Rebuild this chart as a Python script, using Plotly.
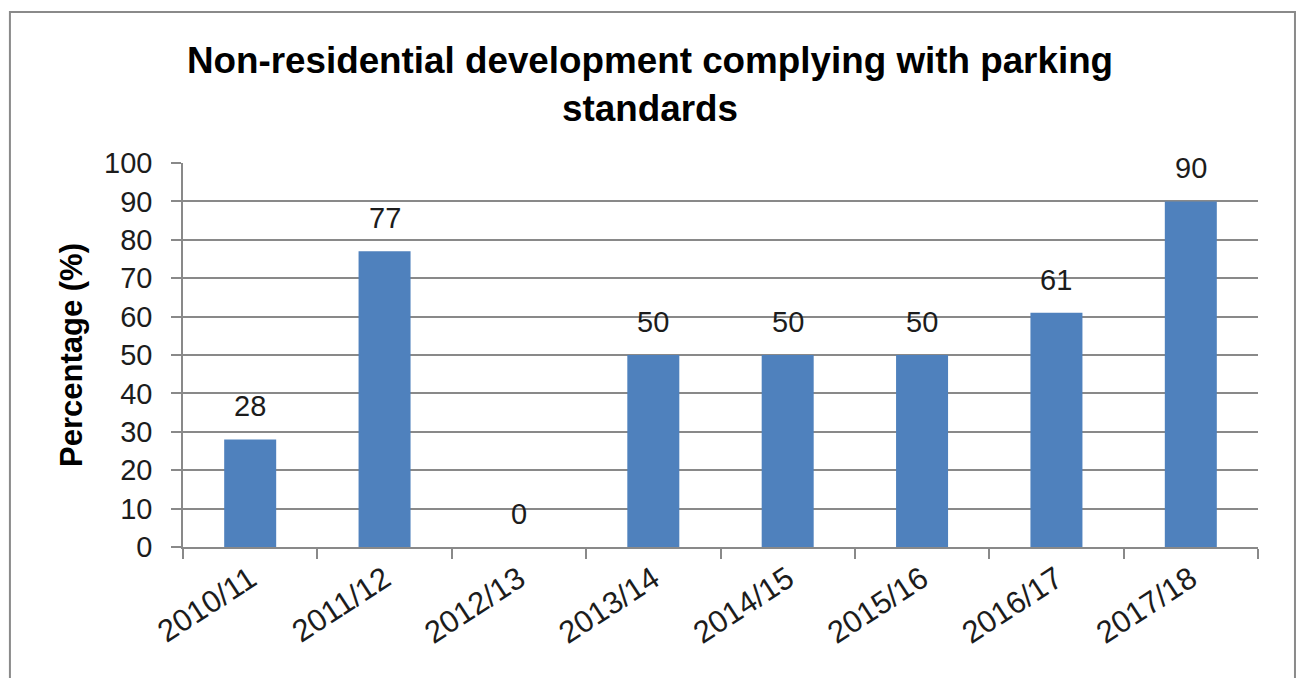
import plotly.graph_objects as go

# Financial years and share of non-residential schemes meeting parking standards
years = ["2010/11", "2011/12", "2012/13", "2013/14", "2014/15", "2015/16", "2016/17", "2017/18"]
percent_complying = [28, 77, 0, 50, 50, 50, 61, 90]

y_ticks = [0, 10, 20, 30, 40, 50, 60, 70, 80, 90, 100]

FONT = "Liberation Sans, Arial, sans-serif"
BAR_BLUE = "#4F81BD"
GRID_GREY = "#898989"
TEXT = "#1c1c1c"

fig = go.Figure()

fig.add_trace(go.Bar(
    x=years,
    y=percent_complying,
    marker=dict(color=BAR_BLUE, line=dict(width=0)),
    hoverinfo="x+y",
))

# value labels sitting above each bar
for yr, val in zip(years, percent_complying):
    fig.add_annotation(
        x=yr, y=val, text=str(val), showarrow=False,
        yanchor="middle", yshift=33,
        font=dict(family=FONT, size=29, color=TEXT),
    )

# outer chart frame
fig.add_shape(
    type="rect", xref="paper", yref="paper",
    x0=-0.161, x1=1.0344, y0=-0.40, y1=1.393,
    line=dict(color="#8a8a8a", width=2), fillcolor="rgba(0,0,0,0)",
    layer="below",
)

fig.update_layout(
    width=1300, height=678,
    margin=dict(l=183, r=42, t=163, b=131),
    paper_bgcolor="white", plot_bgcolor="white",
    showlegend=False,
    bargap=0.613,
    title=dict(
        text="Non-residential development complying with parking<br>standards",
        x=0.5, xanchor="center", xref="container",
        y=1 - 73 / 678, yanchor="top", yref="container",
        font=dict(family=FONT, size=36.8, color="#000000", weight="bold"),
    ),
    font=dict(family=FONT, color=TEXT),
)

fig.update_yaxes(
    range=[0, 100], tickvals=y_ticks,
    showgrid=True, gridcolor=GRID_GREY, gridwidth=1.5,
    showline=True, linecolor=GRID_GREY, linewidth=1.5,
    ticks="outside", ticklen=10, tickcolor=GRID_GREY, tickwidth=1.5,
    ticklabelstandoff=13,
    tickfont=dict(family=FONT, size=29, color=TEXT),
    title=dict(text="Percentage (%)", standoff=12,
               font=dict(family=FONT, size=31, color="#000000", weight="bold")),
    zeroline=False, fixedrange=True,
)

fig.update_xaxes(
    type="category",
    showgrid=False,
    showline=True, linecolor=GRID_GREY, linewidth=1.5,
    ticks="outside", ticklen=10, tickcolor=GRID_GREY, tickwidth=1.5,
    tickson="boundaries",
    tickangle=-33,
    ticklabelstandoff=0,
    tickfont=dict(family=FONT, size=31, color=TEXT),
    fixedrange=True,
)

fig.write_html("out.html")
